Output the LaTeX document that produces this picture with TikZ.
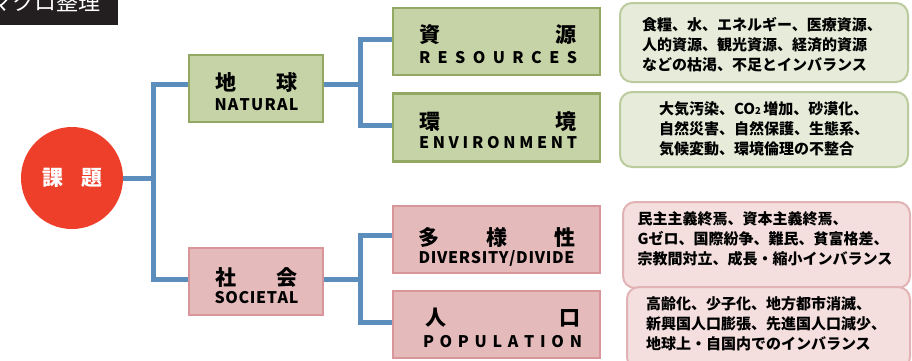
\documentclass[tikz,border=0pt]{standalone}
\usepackage{fontspec}
\setmainfont{Noto Sans CJK JP}
\definecolor{bluel}{HTML}{5B8DBD}
\definecolor{redc}{HTML}{EE3F2B}
\definecolor{gfill}{HTML}{C5D3A7}
\definecolor{gline}{HTML}{93A862}
\definecolor{pfill}{HTML}{E5BABB}
\definecolor{pline}{HTML}{D8969B}
\definecolor{dgfill}{HTML}{E6ECD9}
\definecolor{dgline}{HTML}{BCCB9E}
\definecolor{dpfill}{HTML}{F4DEDE}
\definecolor{dpline}{HTML}{E1B3B4}
\definecolor{darkbox}{HTML}{231F20}
\begin{document}
\begin{tikzpicture}[x=1pt,y=-1pt,
  conn/.style={draw=bluel,line width=5pt},
  gbox/.style={draw=gline,fill=gfill,line width=2.5pt,inner sep=0pt},
  pbox/.style={draw=pline,fill=pfill,line width=2.5pt,inner sep=0pt},
  dgbox/.style={draw=dgline,fill=dgfill,line width=2pt,rounded corners=12pt,inner sep=0pt},
  dpbox/.style={draw=dpline,fill=dpfill,line width=2pt,rounded corners=12pt,inner sep=0pt},
  kj/.style={inner sep=0pt,font=\fontsize{21}{21}\selectfont\bfseries},
  en/.style={inner sep=0pt,font=\fontsize{16}{16}\selectfont\bfseries},
  desc/.style={inner sep=0pt,align=left,font=\fontsize{15}{20}\selectfont\bfseries}]
\useasboundingbox (0,0) rectangle (912,360);

% top-left label
\node[fill=darkbox,minimum width=118pt,minimum height=25pt,inner sep=0pt,anchor=north west] (lbl) at (0,0) {};
\node[inner sep=0pt,anchor=east,text=white,font=\fontsize{22}{22}\selectfont] (lbltext) at (101,2) {マクロ整理};

% central circle
\node[circle,fill=redc,minimum size=102pt,inner sep=0pt] (kadai) at (72,178) {};
\node[kj,text=white,font=\fontsize{21}{21}\selectfont\bfseries] (kadaiT) at (72.5,178) {課\hspace{0.9em}題};

% level-1 boxes
\node[gbox,minimum width=134pt,minimum height=67pt] (chikyu) at (256,88.5) {};
\node[kj] (chikyuK) at (256.5,82) {\makebox[83pt][s]{地\hfill 球}};
\node[en] (chikyuE) at (256.5,105) {\makebox[84pt][s]{N\hfill A\hfill T\hfill U\hfill R\hfill A\hfill L}};

\node[pbox,minimum width=134pt,minimum height=67pt] (shakai) at (256,281.5) {};
\node[kj] (shakaiK) at (256.5,278) {\makebox[83pt][s]{社\hfill 会}};
\node[en] (shakaiE) at (256.5,298) {\makebox[84pt][s]{S\hfill O\hfill C\hfill I\hfill E\hfill T\hfill A\hfill L}};

% level-2 boxes
\node[gbox,minimum width=207pt,minimum height=67pt] (shigen) at (496.5,41.5) {};
\node[kj] (shigenK) at (498,35) {\makebox[157pt][s]{資\hfill 源}};
\node[en] (shigenE) at (498,58) {\makebox[158pt][s]{R\hfill E\hfill S\hfill O\hfill U\hfill R\hfill C\hfill E\hfill S}};

\node[gbox,minimum width=207pt,minimum height=68pt] (kankyo) at (496.5,127.5) {};
\node[kj] (kankyoK) at (498,122) {\makebox[157pt][s]{環\hfill 境}};
\node[en] (kankyoE) at (498,143) {\makebox[158pt][s]{E\hfill N\hfill V\hfill I\hfill R\hfill O\hfill N\hfill M\hfill E\hfill N\hfill T}};

\node[pbox,minimum width=207pt,minimum height=67pt] (tayo) at (496.5,239.5) {};
\node[kj] (tayoK) at (497,237) {\makebox[157pt][s]{多\hfill 様\hfill 性}};
\node[en] (tayoE) at (496.5,258) {\makebox[156pt][s]{D\hfill I\hfill V\hfill E\hfill R\hfill S\hfill I\hfill T\hfill Y\hfill /\hfill D\hfill I\hfill V\hfill I\hfill D\hfill E}};

\node[pbox,minimum width=207pt,minimum height=67pt] (jinko) at (496.5,324.5) {};
\node[kj] (jinkoK) at (502.5,318) {\makebox[155pt][s]{人\hfill 口}};
\node[en] (jinkoE) at (502.5,342) {\makebox[159pt][s]{P\hfill O\hfill P\hfill U\hfill L\hfill A\hfill T\hfill I\hfill O\hfill N}};

% description boxes
\node[dgbox,minimum width=288pt,minimum height=79pt] (d1) at (764,42.5) {};
\node[desc] (d1t) at (762,45) {食糧、水、エネルギー、医療資源、\\人的資源、観光資源、経済的資源\\などの枯渇、不足とインバランス};

\node[dgbox,minimum width=288pt,minimum height=75pt] (d2) at (764,129.5) {};
\node[desc] (d2t) at (764,129) {大気汚染、CO{\fontsize{9.5}{9.5}\selectfont 2}\,増加、砂漠化、\\自然災害、自然保護、生態系、\\気候変動、環境倫理の不整合};

\node[dpbox,minimum width=287pt,minimum height=86pt] (d3) at (766.5,245) {};
\node[desc] (d3t) at (765,239) {民主主義終焉、資本主義終焉、\\Gゼロ、国際紛争、難民、貧富格差、\\宗教間対立、成長・縮小インバランス};

\node[dpbox,minimum width=283pt,minimum height=82pt] (d4) at (768.5,328) {};
\node[desc] (d4t) at (766,324) {高齢化、少子化、地方都市消滅、\\新興国人口膨張、先進国人口減少、\\地球上・自国内でのインバランス};

% connectors
\coordinate (j1) at (153,178);
\coordinate (j2) at (360,84.5);
\coordinate (j3) at (360,279);
\draw[conn] (kadai.east) -- (j1);
\draw[conn] ([yshift=4.5pt]chikyu.west) -| (j1) |- ([yshift=2.5pt]shakai.west);
\draw[conn] ([yshift=4pt]chikyu.east) -- (j2);
\draw[conn] ([yshift=2.5pt]shigen.west) -| (j2) |- ([yshift=2.5pt]kankyo.west);
\draw[conn] ([yshift=2.5pt]shakai.east) -- (j3);
\draw[conn] ([yshift=4.5pt]tayo.west) -| (j3) |- ([yshift=2.5pt]jinko.west);
\end{tikzpicture}
\end{document}
